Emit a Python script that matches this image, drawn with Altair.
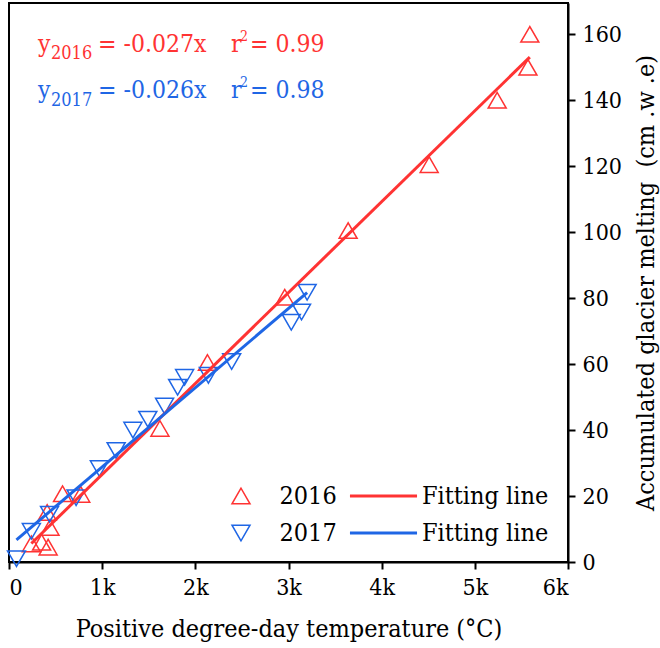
import altair as alt
import pandas as pd

# Positive degree-day sums (°C) and accumulated glacier melt (cm w.e.)
pdd_2016 = [240, 350, 420, 440, 410, 575, 770, 1620, 2130, 2960, 3640, 4510, 5240, 5570, 5590]
melt_2016 = [5.5, 6, 4.5, 10.5, 15, 20.7, 20.5, 40.5, 60.5, 80.3, 100.5, 120.5, 140, 150, 160]

pdd_2017 = [80, 240, 435, 720, 970, 1150, 1330, 1490, 1670, 1810, 1885, 2140, 2390, 3030, 3140, 3200]
melt_2017 = [1, 9.3, 14.5, 19.5, 28.3, 33.8, 40, 43.3, 47.3, 53, 56, 56.6, 60.8, 72.7, 75.8, 81.8]

years = ["2016", "2017"]
colors = ["#FF3333", "#1F66E5"]
x_ticks = [0, 1000, 2000, 3000, 4000, 5000, 6000]
y_ticks = [0, 20, 40, 60, 80, 100, 120, 140, 160]

FONT = "DejaVu Serif Condensed, DejaVu Serif"

df = pd.concat([
    pd.DataFrame({"year": "2016", "pdd": pdd_2016, "melt": melt_2016}),
    pd.DataFrame({"year": "2017", "pdd": pdd_2017, "melt": melt_2017}),
])

x_enc = alt.X(
    "pdd:Q",
    scale=alt.Scale(domain=[0, 6000], nice=False, zero=False),
    axis=alt.Axis(
        values=x_ticks, labelExpr="datum.value == 0 ? '0' : (datum.value / 1000) + 'k'",
        title="Positive degree-day temperature (°C)",
        grid=False, domainColor="black", domainWidth=2, tickColor="black",
        tickWidth=2, tickSize=7, labelFont=FONT, labelFontSize=23, labelColor="black",
        labelPadding=7, titleFont=FONT, titleFontSize=25, titleFontWeight="normal",
        titleColor="black", titlePadding=17,
    ),
)
y_enc = alt.Y(
    "melt:Q",
    scale=alt.Scale(domain=[0, 169.5], nice=False),
    axis=alt.Axis(
        orient="right", values=y_ticks, title="Accumulated glacier melting\u00a0\u00a0(cm .w .e)",
        grid=False, domainColor="black", domainWidth=2, tickColor="black",
        tickWidth=2, tickSize=7, labelFont=FONT, labelFontSize=23, labelColor="black",
        labelPadding=7, titleFont=FONT, titleFontSize=25, titleFontWeight="normal",
        titleColor="black", titleAngle=270, titleBaseline="top", titlePadding=12,
    ),
)

point_legend = alt.Legend(
    title=None, orient="none", legendX=219.5, legendY=480.5, padding=0,
    labelFont=FONT, labelFontSize=25, labelColor="black", labelOffset=26,
    symbolSize=324, symbolStrokeWidth=1.5, rowPadding=11,
)

points = alt.Chart(df).mark_point(filled=False, size=324, strokeWidth=1.5, opacity=1).encode(
    x=x_enc,
    y=y_enc,
    color=alt.Color("year:N", scale=alt.Scale(domain=years, range=colors), legend=point_legend),
    shape=alt.Shape(
        "year:N",
        scale=alt.Scale(domain=years, range=["triangle-up", "triangle-down"]),
        legend=point_legend,
    ),
)

fits = alt.Chart(df).transform_regression(
    "pdd", "melt", groupby=["year"]
).transform_calculate(
    fit="datum.year + ' fit'"
).mark_line(strokeWidth=3).encode(
    x="pdd:Q",
    y="melt:Q",
    color=alt.Color(
        "fit:N",
        scale=alt.Scale(domain=["2016 fit", "2017 fit"], range=colors),
        legend=alt.Legend(
            title=None, orient="none", legendX=362, legendY=480.5, padding=0,
            labelFont=FONT, labelFontSize=25, labelColor="black", labelOffset=26,
            labelExpr="'Fitting line'", symbolType="M-3.53,0L3.53,0", symbolSize=361,
            symbolStrokeWidth=3, rowPadding=11,
        ),
    ),
)

one = pd.DataFrame({"k": [0]})


def label(text, x, y, size, color):
    return alt.Chart(one).mark_text(
        align="left", baseline="alphabetic", font=FONT, fontSize=size, color=color
    ).encode(x=alt.value(x), y=alt.value(y), text=alt.value(text))


def equation(year, slope, r2, base, color):
    return [
        label("y", 29, base, 24.5, color),
        label(year, 42, base + 7.6, 18, color),
        label(f"= {slope}x", 89, base, 24.5, color),
        label("r", 222, base, 24.5, color),
        label("2", 231, base - 11, 14, color),
        label(f"= {r2}", 241, base, 24.5, color),
    ]


texts = equation("2016", "-0.027", "0.99", 48.7, colors[0]) + \
    equation("2017", "-0.026", "0.98", 95.3, colors[1])

chart = alt.layer(points, fits, *texts).resolve_scale(
    color="independent", shape="independent"
).properties(
    width=559,
    height=559,
    autosize=alt.AutoSizeParams(type="none"),
    padding={"left": 9, "top": 3, "right": 92, "bottom": 86},
).configure_view(
    stroke="black", strokeWidth=2
)

chart.save("out.html", embed_options={"renderer": "svg", "actions": False})
